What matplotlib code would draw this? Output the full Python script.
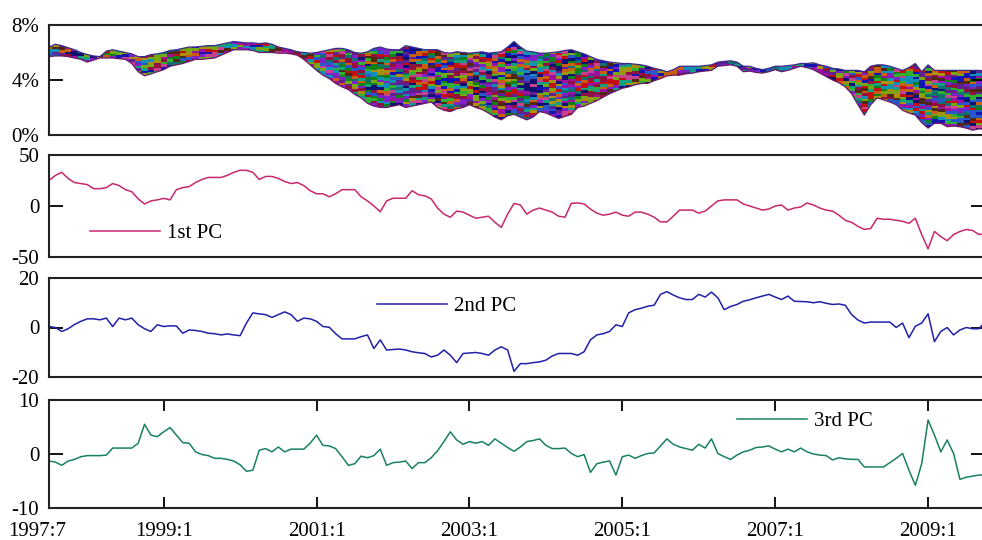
import matplotlib
matplotlib.use('Agg')
import matplotlib.pyplot as plt
import matplotlib.transforms as mtransforms
from matplotlib.colors import to_rgb
import numpy as np

plt.rcParams.update({
    'font.family': ['Liberation Serif', 'DejaVu Serif'],
    'font.size': 15,
    'axes.linewidth': 1.5,
    'axes.edgecolor': '#222222',
    'axes.unicode_minus': False,
})

# ── data (monthly, 1997:7 .. 2009:10) ────────────────────────────────────────
long_rate = [6.4, 6.6, 6.5, 6.35, 6.2, 6.0, 5.85, 5.75, 5.7, 6.1,
             6.2, 6.1, 6.0, 5.9, 5.7, 5.7, 5.85, 5.9, 6.0, 6.15,
             6.2, 6.3, 6.4, 6.4, 6.45, 6.5, 6.5, 6.6, 6.7, 6.8,
             6.75, 6.7, 6.7, 6.65, 6.7, 6.6, 6.4, 6.3, 6.2, 6.05,
             6.0, 5.95, 6.0, 6.1, 6.2, 6.3, 6.3, 6.2, 6.0, 5.95,
             6.05, 6.3, 6.4, 6.25, 6.2, 6.2, 6.5, 6.4, 6.3, 6.2,
             6.2, 6.2, 6.0, 5.95, 6.05, 6.0, 5.95, 6.0, 6.05, 5.95,
             6.0, 6.05, 6.4, 6.8, 6.4, 6.1, 6.05, 5.95, 5.95, 6.0,
             6.05, 6.15, 6.2, 6.05, 5.9, 5.7, 5.5, 5.4, 5.3, 5.25,
             5.2, 5.2, 5.15, 5.1, 5.0, 4.85, 4.75, 4.6, 4.75, 5.0,
             5.0, 5.0, 5.0, 5.05, 5.1, 5.3, 5.35, 5.4, 5.3, 5.0,
             5.0, 4.85, 4.75, 4.85, 5.0, 5.0, 5.05, 5.1, 5.2, 5.2,
             5.25, 5.1, 5.0, 4.85, 4.8, 4.7, 4.7, 4.7, 4.6, 5.0,
             5.1, 5.1, 5.0, 4.85, 4.7, 4.9, 5.2, 4.6, 5.1, 4.7,
             4.7, 4.7, 4.7, 4.7, 4.7, 4.7, 4.7, 4.65]
short_rate = [5.7, 5.75, 5.75, 5.7, 5.6, 5.5, 5.3, 5.45, 5.6, 5.6,
              5.6, 5.55, 5.5, 5.2, 4.6, 4.3, 4.45, 4.6, 4.75, 5.0,
              5.1, 5.2, 5.35, 5.5, 5.5, 5.55, 5.6, 5.8, 6.0, 6.2,
              6.2, 6.2, 6.15, 6.0, 6.0, 6.0, 5.95, 5.95, 5.9, 5.8,
              5.5, 5.1, 4.7, 4.35, 4.1, 3.75, 3.5, 3.3, 2.95, 2.7,
              2.3, 2.1, 2.0, 2.0, 2.1, 2.2, 2.0, 2.1, 2.2, 2.3,
              2.4, 2.0, 1.8, 1.7, 1.9, 2.0, 2.2, 2.0, 1.85, 1.6,
              1.3, 1.1, 1.4, 1.5, 1.3, 1.1, 1.3, 1.7, 1.6, 1.4,
              1.2, 1.35, 1.5, 2.0, 2.1, 2.3, 2.5, 2.75, 3.0, 3.2,
              3.4, 3.5, 3.65, 3.75, 3.75, 3.95, 4.1, 4.3, 4.35, 4.35,
              4.45, 4.5, 4.6, 4.65, 4.7, 5.0, 5.05, 5.1, 5.0, 4.6,
              4.65, 4.55, 4.5, 4.6, 4.75, 4.6, 4.7, 4.85, 5.0, 4.9,
              4.75, 4.5, 4.25, 4.0, 3.8, 3.5, 3.0, 2.2, 1.45, 2.2,
              2.7, 2.55, 2.4, 2.2, 1.8, 1.6, 1.45, 0.9, 0.5, 0.85,
              0.85, 0.6, 0.65, 0.6, 0.5, 0.35, 0.45, 0.4]

pc1 = [25, 30, 33, 27, 23, 22, 21, 17, 17, 18,
       22, 20, 16, 14, 7, 2, 5, 6, 7.5, 6,
       16, 18, 19, 23, 26, 28, 28, 28, 30, 33,
       35, 35, 33, 26, 29, 29, 27, 24, 22, 23,
       20, 15, 12, 12, 9, 12, 16, 16, 16, 9,
       5, 0, -5.6, 5, 7.6, 7.6, 7.6, 15, 11, 10,
       7, -2, -8, -11, -5, -6, -9, -12, -11, -10,
       -16, -21, -8, 2.5, 1, -8, -4, -2, -4, -6,
       -10, -11, 2.6, 3, 2, -3, -7, -9, -8, -6,
       -9, -10, -6, -6, -8, -11, -15.6, -15.6, -10, -4,
       -4, -4, -7, -5, 0, 5, 6, 6, 6, 2,
       0, -2, -4, -3, 0, 1, -4, -2, -1, 3,
       1, -2, -4, -5, -9, -14, -16, -20, -23, -22,
       -12, -13, -13, -14, -15, -17, -12, -28, -42, -25,
       -30, -34, -28, -25, -23, -24, -28, -27]
pc2 = [0.4, 0, -1.6, -0.5, 1.2, 2.5, 3.5, 3.5, 3.1, 3.8,
       0.4, 3.8, 3.1, 3.8, 1.1, -0.5, -1.6, 1.1, 0.4, 0.7,
       0.6, -2.3, -1.0, -1.2, -1.6, -2.3, -2.5, -3.0, -2.6, -3.0,
       -3.3, 1.8, 5.9, 5.5, 5.2, 4.1, 5.2, 6.3, 5.2, 2.5,
       3.8, 3.5, 2.5, 0.4, 0.1, -2.5, -4.6, -4.6, -4.6, -3.7,
       -3.0, -8.5, -5.0, -9.1, -8.9, -8.7, -9.1, -9.8, -10.2, -10.5,
       -11.9, -11.2, -9.1, -11.2, -14.2, -10.5, -10.3, -10.1, -10.5, -11.2,
       -9.1, -7.8, -9.1, -17.7, -14.6, -14.6, -14.2, -13.9, -13.2, -11.5,
       -10.5, -10.5, -10.5, -11.2, -9.8, -5.0, -3.0, -2.5, -1.6, 1.1,
       0.4, 5.9, 7.2, 7.8, 8.6, 9.0, 13.4, 14.5, 13.1, 12.0,
       11.3, 11.3, 13.4, 12.3, 14.3, 12.0, 7.2, 8.5, 9.3, 10.6,
       11.2, 12.0, 12.7, 13.4, 12.3, 11.3, 12.7, 10.6, 10.5, 10.4,
       10.0, 10.4, 9.8, 9.3, 9.5, 9.0, 5.2, 3.0, 1.8, 2.2,
       2.2, 2.2, 2.2, 0.0, 1.8, -4.1, 0.5, 1.8, 5.5, -5.7,
       -1.6, 0.0, -3.0, -1.0, 0.0, -0.5, -0.5, 2.5]
pc3 = [-1.3, -1.5, -2.1, -1.3, -1.0, -0.5, -0.3, -0.3, -0.3, -0.2,
       1.1, 1.1, 1.1, 1.1, 2.0, 5.5, 3.5, 3.2, 4.1, 4.9,
       3.5, 2.1, 2.0, 0.4, -0.1, -0.3, -0.8, -0.8, -1.0, -1.3,
       -2.0, -3.2, -3.0, 0.7, 1.0, 0.4, 1.3, 0.4, 0.9, 0.9,
       0.9, 2.0, 3.5, 1.6, 1.5, 1.0, -0.5, -2.1, -1.8, -0.4,
       -0.7, -0.3, 0.9, -2.1, -1.6, -1.5, -1.3, -2.7, -1.6, -1.6,
       -0.7, 0.6, 2.3, 4.1, 2.6, 1.8, 2.3, 2.0, 2.3, 1.6,
       2.8, 2.0, 1.2, 0.5, 1.3, 2.3, 2.5, 2.8, 1.6, 1.0,
       1.0, 1.1, 0.1, -0.5, -0.1, -3.4, -1.8, -1.5, -1.3, -3.9,
       -0.5, -0.2, -0.8, -0.3, 0.1, 0.2, 1.5, 2.8, 1.8, 1.3,
       1.0, 0.7, 1.8, 1.1, 2.8, 0.1, -0.5, -1.0, -0.2, 0.4,
       0.7, 1.2, 1.3, 1.5, 0.9, 0.4, 0.9, 0.4, 1.1, 0.4,
       0.0, -0.2, -0.3, -1.1, -0.7, -0.9, -1.0, -1.0, -2.4, -2.4,
       -2.4, -2.4, -1.6, -0.8, 0.1, -3.0, -5.8, -1.8, 6.3, 3.5,
       0.4, 2.6, 0.1, -4.7, -4.3, -4.1, -3.9, -3.9]

tick_pos = [0, 18, 42, 66, 90, 114, 138]
tick_lbl = ['1997:7', '1999:1', '2001:1', '2003:1', '2005:1', '2007:1', '2009:1']

# ── layout ───────────────────────────────────────────────────────────────────
fig = plt.figure(figsize=(9.82, 5.40), dpi=100)
L, W = 49 / 982, 936.4 / 982
def px_axes(top, bot):
    return fig.add_axes([L, (540 - bot) / 540, W, (bot - top) / 540])

ax1 = px_axes(25, 135)
ax2 = px_axes(155, 257)
ax3 = px_axes(278, 377)
ax4 = px_axes(400, 508)

t = np.arange(len(pc1))
n = len(t)

# ── top panel: yield band with multicolour line texture ──────────────────────
pal = ['#c01010', '#108018', '#1414b0', '#a010a0', '#1090b8', '#602090',
       '#901040', '#78a810', '#107070', '#c86010', '#101070', '#c84090',
       '#a89010', '#30b030', '#502810', '#2858c8', '#8020c8', '#10a080']
rgb = np.array([to_rgb(c) for c in pal])
lo = np.array(short_rate)
hi = np.array(long_rate)
ys = np.linspace(0, 8, 560)
shift = (t % 3) * 0.07
k = np.floor((ys[:, None] - lo[None, :] + shift[None, :]) / 0.19).astype(np.int64) + 1000
seg = (t[None, :] + (k % 2)) // 2
idx = ((k * 73856093) ^ (seg * 19349663) ^ ((k // 3) * 83492791)) % len(pal)
im = ax1.imshow(rgb[idx], origin='lower', extent=(-0.5, n - 0.5, 0, 8),
                aspect='auto', interpolation='nearest', zorder=1)
band = ax1.fill_between(t, lo, hi, facecolor='none', edgecolor='none')
im.set_clip_path(band.get_paths()[0], transform=ax1.transData)
ax1.plot(t, hi, color='#3a2a8a', lw=0.9, zorder=2)
ax1.plot(t, lo, color='#6a1a6a', lw=0.9, zorder=2)
ax1.set_ylim(0, 8)
ax1.set_yticks([0, 4, 8])
ax1.set_yticklabels(['0%', '4%', '8%'])

# ── principal components ─────────────────────────────────────────────────────
ax2.plot(t, pc1, color='#c8286e', lw=1.1, label='1st PC')
ax2.set_ylim(-50, 50)
ax2.set_yticks([-50, 0, 50])

ax3.plot(t, pc2, color='#2020a8', lw=1.1, label='2nd PC')
ax3.set_ylim(-20, 20)
ax3.set_yticks([-20, 0, 20])

ax4.plot(t, pc3, color='#1a8064', lw=1.1, label='3rd PC')
ax4.set_ylim(-10, 10)
ax4.set_yticks([-10, 0, 10])

for ax in (ax1, ax2, ax3, ax4):
    ax.set_xlim(0, n - 1)
    ax.tick_params(axis='y', direction='in', length=10, width=1.3,
                   left=True, right=True, pad=7, labelsize=15)
    ax.tick_params(axis='x', bottom=False, top=False, labelbottom=False)

for ax, anchor in [(ax2, (0.0438, 0.235)),
                   (ax3, (0.350, 0.717)),
                   (ax4, (0.735, 0.80))]:
    ax.legend(loc='center left', bbox_to_anchor=anchor, frameon=False,
              handlelength=3.35, handletextpad=0.35, borderpad=0,
              borderaxespad=0, fontsize=15)

ax4.set_xticks(tick_pos)
ax4.set_xticklabels(tick_lbl)
ax4.tick_params(axis='x', direction='in', length=8, width=1.3,
                bottom=True, top=True, labelbottom=True, pad=10, labelsize=15)
first = ax4.get_xticklabels()[0]
first.set_transform(first.get_transform() +
                    mtransforms.ScaledTranslation(-0.12, 0, fig.dpi_scale_trans))

fig.savefig('out.png', dpi=100)
